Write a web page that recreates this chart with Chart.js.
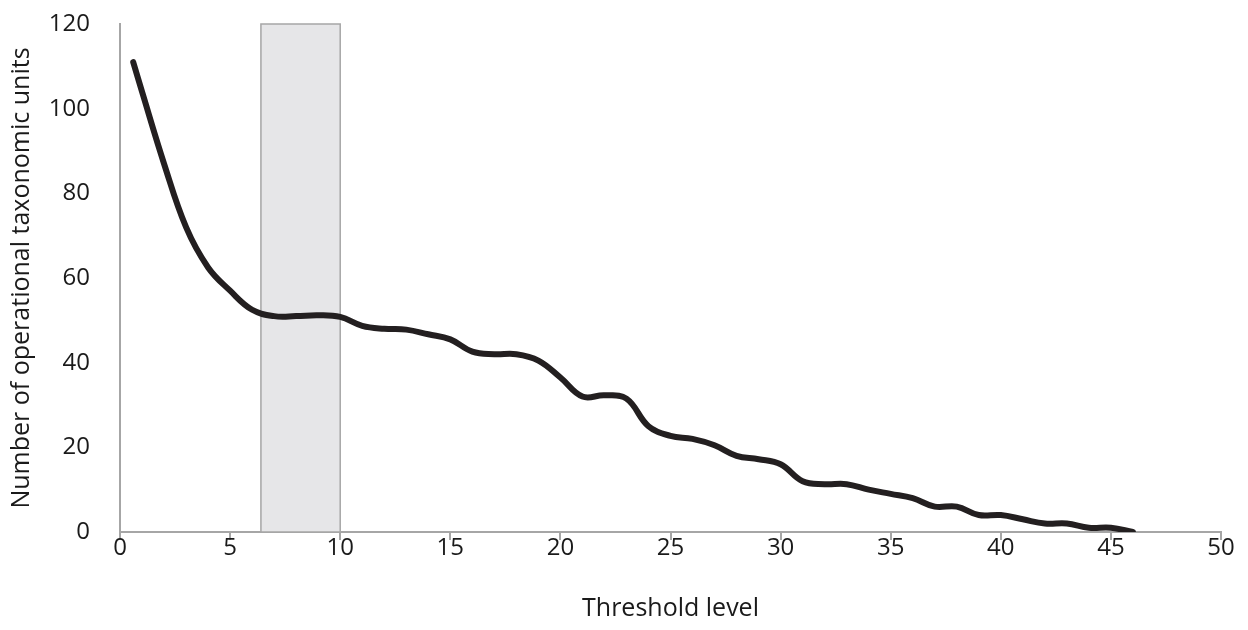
<!DOCTYPE html>
<html>
<head>
<meta charset="utf-8">
<script src="https://cdn.jsdelivr.net/npm/chart.js@4.4.0/dist/chart.umd.min.js"></script>
<style>
html,body{margin:0;padding:0;background:#fff;}
#wrap{width:1248px;height:630px;position:relative;}
</style>
</head>
<body>
<div id="wrap"><canvas id="c" width="1248" height="630"></canvas></div>
<script>
const thresholds = [0.6,1,2,3,4,5,6,7,8,9,10,11,12,13,14,15,16,17,18,19,20,21,22,23,24,25,26,27,28,29,30,31,32,33,34,35,36,37,38,39,40,41,42,43,44,45,46];
const otuCounts = [111,104,87,72,62.5,57,52.5,51,51,51.2,50.8,48.7,48,47.8,46.7,45.5,42.6,42,42,40.5,36.5,32,32.3,31.5,25,22.7,22,20.5,18,17.2,16,12,11.3,11.3,10,9,8,6,6,4,4,3,2,2,1,1,0];
const bandRange = [6.4, 10];
const xTicks = [0,5,10,15,20,25,30,35,40,45,50];
const yTicks = [0,20,40,60,80,100,120];

const FONT = "'Open Sans', 'Noto Sans', sans-serif";
const AXIS_GREY = '#a6a6a6';
const TEXT = '#1a1a1a';

const bandPlugin = {
  id: 'band',
  beforeDatasetsDraw(chart) {
    const {ctx, scales: {x, y}} = chart;
    const x0 = x.getPixelForValue(bandRange[0]);
    const x1 = x.getPixelForValue(bandRange[1]);
    const y0 = y.getPixelForValue(y.max);
    const y1 = y.getPixelForValue(0);
    ctx.save();
    ctx.fillStyle = '#e6e6e8';
    ctx.fillRect(x0, y0, x1 - x0, y1 - y0);
    ctx.strokeStyle = '#a6a6a6';
    ctx.lineWidth = 1.5;
    ctx.strokeRect(x0, y0, x1 - x0, y1 - y0);
    ctx.restore();
  }
};

new Chart(document.getElementById('c'), {
  type: 'line',
  data: {
    datasets: [{
      data: thresholds.map((t, i) => ({x: t, y: otuCounts[i]})),
      borderColor: '#231f20',
      borderWidth: 6,
      pointRadius: 0,
      tension: 0.4,
      borderCapStyle: 'round',
      borderJoinStyle: 'round',
      fill: false
    }]
  },
  options: {
    responsive: false,
    animation: false,
    layout: {padding: {top: 24, right: 27, left: 0, bottom: 0}},
    plugins: {legend: {display: false}, tooltip: {enabled: false}},
    scales: {
      x: {
        type: 'linear',
        min: 0, max: 50,
        afterBuildTicks(s) { s.ticks = xTicks.map(v => ({value: v})); },
        afterFit(s) { s.height = 98; s.paddingLeft = 0; s.paddingRight = 0; },
        grid: {display: true, drawOnChartArea: false, drawTicks: true, tickLength: 8, color: AXIS_GREY, lineWidth: 2},
        border: {display: true, color: AXIS_GREY, width: 2},
        ticks: {color: TEXT, font: {family: FONT, size: 24}, padding: -6, maxRotation: 0},
        title: {display: true, text: 'Threshold level', color: TEXT, font: {family: FONT, size: 25}, padding: {top: 0, bottom: 6}}
      },
      y: {
        type: 'linear',
        min: 0, max: 120,
        afterBuildTicks(s) { s.ticks = yTicks.map(v => ({value: v})); },
        afterFit(s) { s.width = 120; s.paddingTop = 0; s.paddingBottom = 0; },
        grid: {display: false, drawTicks: false},
        border: {display: true, color: AXIS_GREY, width: 2},
        ticks: {color: TEXT, font: {family: FONT, size: 24}, padding: 30},
        title: {display: true, text: 'Number of operational taxonomic units', color: TEXT, font: {family: FONT, size: 25}, padding: {top: 7, bottom: 0}}
      }
    }
  },
  plugins: [bandPlugin]
});
</script>
</body>
</html>
